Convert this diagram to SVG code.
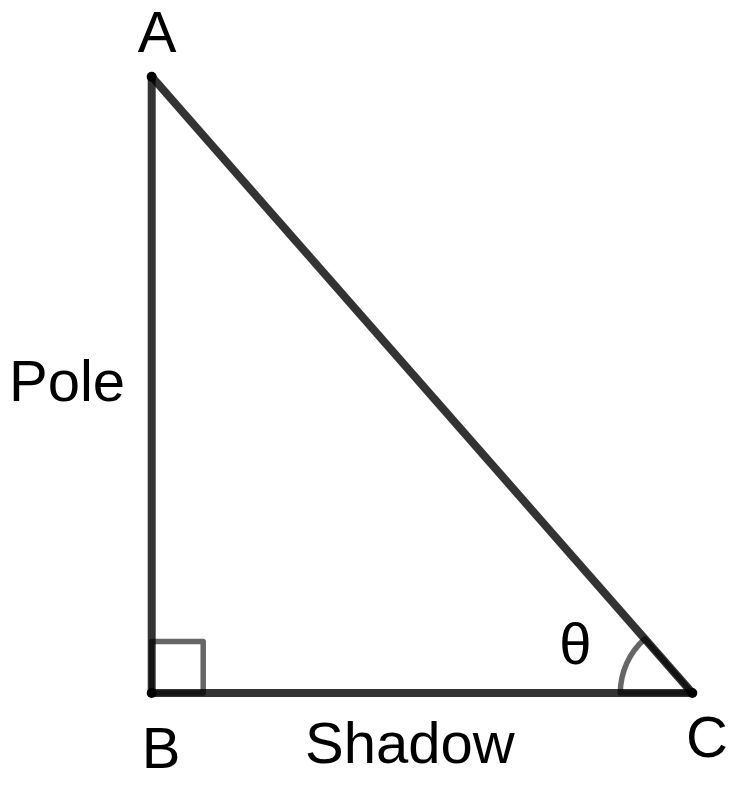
<svg xmlns="http://www.w3.org/2000/svg" width="732" height="795" viewBox="0 0 732 795">
<style>
.side{stroke:#000;stroke-opacity:0.8;stroke-width:8;fill:none;stroke-linecap:butt}
.mark{stroke:#000;stroke-opacity:0.6;stroke-width:5.5;fill:none;stroke-linejoin:round}
.pt{fill:#000}
.lbl{font-family:"Liberation Sans",Arial,sans-serif;font-size:58px;fill:#000}
</style>
<rect width="732" height="795" fill="#fff"/>
<g id="connectors">
<line class="side" x1="151.7" y1="76.7" x2="151.7" y2="693"/>
<line class="side" x1="151.7" y1="693" x2="692.3" y2="693"/>
<line class="side" x1="692.3" y1="693" x2="151.7" y2="76.7"/>
</g>
<g id="right-angle">
<rect class="mark" x="151.7" y="641.5" width="51.5" height="51.5"/>
</g>
<g id="angle-theta">
<path class="mark" d="M692.3 693 L620.3 693 A72 72 0 0 1 644.8 638.9 Z"/>
<text class="lbl" x="575.5" y="664" text-anchor="middle">θ</text>
</g>
<g id="node-A">
<circle class="pt" cx="151.7" cy="76.7" r="5"/>
<text class="lbl" x="157" y="52" text-anchor="middle">A</text>
</g>
<g id="node-B">
<circle class="pt" cx="151.7" cy="693" r="5"/>
<text class="lbl" x="161" y="768" text-anchor="middle">B</text>
</g>
<g id="node-C">
<circle class="pt" cx="692.3" cy="693" r="5"/>
<text class="lbl" x="707" y="757" text-anchor="middle">C</text>
</g>
<g id="label-pole">
<text class="lbl" x="9" y="401">Pole</text>
</g>
<g id="label-shadow">
<text class="lbl" x="305" y="763">Shadow</text>
</g>
</svg>
